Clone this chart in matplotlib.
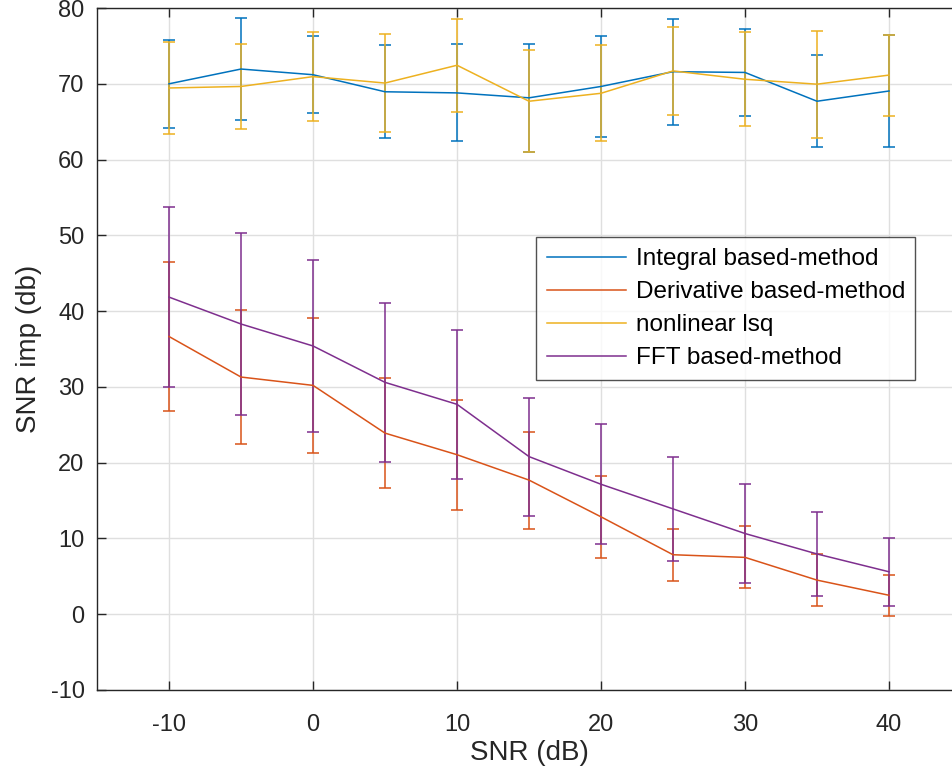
"""SNR improvement vs. input SNR for the four estimation methods."""

import matplotlib
matplotlib.use("Agg")
import matplotlib.pyplot as plt

plt.rcParams['font.family'] = ['Liberation Sans', 'DejaVu Sans']
plt.rcParams['axes.unicode_minus'] = False

snr = [-10, -5, 0, 5, 10, 15, 20, 25, 30, 35, 40]

integral_mean = [70.0, 71.95, 71.2, 68.95, 68.8, 68.15, 69.65, 71.6, 71.5, 67.7, 69.05]
integral_err = [5.8, 6.75, 5.05, 6.15, 6.4, 7.15, 6.65, 7.0, 5.7, 6.1, 7.35]

derivative_mean = [36.65, 31.3, 30.2, 23.9, 21.05, 17.7, 12.85, 7.85, 7.5, 4.5, 2.5]
derivative_err = [9.85, 8.8, 8.9, 7.3, 7.25, 6.4, 5.45, 3.45, 4.1, 3.45, 2.7]

lsq_mean = [69.45, 69.65, 70.95, 70.1, 72.45, 67.7, 68.75, 71.7, 70.6, 69.95, 71.15]
lsq_err = [6.1, 5.55, 5.85, 6.5, 6.15, 6.7, 6.35, 5.8, 6.2, 7.05, 5.35]

fft_mean = [41.85, 38.3, 35.4, 30.6, 27.7, 20.8, 17.15, 13.9, 10.65, 7.95, 5.6]
fft_err = [11.85, 12.0, 11.3, 10.5, 9.8, 7.8, 7.95, 6.85, 6.55, 5.6, 4.5]

labels = ['Integral based-method', 'Derivative based-method',
          'nonlinear lsq', 'FFT based-method']
colors = ['#0072BD', '#D95319', '#EDB120', '#7E2F8E']

fig = plt.figure(figsize=(9.53, 7.73), dpi=100)
# axes runs a little past the right edge of the figure
ax = fig.add_axes([0.1018, 0.1074, 0.9066, 0.8822])

series = [(integral_mean, integral_err), (derivative_mean, derivative_err),
          (lsq_mean, lsq_err), (fft_mean, fft_err)]
handles = []
for (mean, err), color, label in zip(series, colors, labels):
    cont = ax.errorbar(snr, mean, yerr=err, color=color, lw=1.1,
                       elinewidth=1.1, capsize=4.5, capthick=1.1, label=label)
    handles.append(cont.lines[0])

ax.set_xlim(-15, 45)
ax.set_ylim(-10, 80)
ax.set_xticks(range(-10, 41, 10))
ax.set_yticks(range(-10, 81, 10))
ax.grid(True, color='#dfdfdf', lw=1.0)
ax.set_axisbelow(True)

for spine in ax.spines.values():
    spine.set_color('#262626')
    spine.set_linewidth(1.0)
ax.tick_params(direction='in', length=6.5, width=1.0, colors='#262626',
               labelsize=17, top=True, right=True)
ax.tick_params(axis='x', pad=17)
ax.tick_params(axis='y', pad=9)

ax.set_xlabel('SNR (dB)', fontsize=20, color='#262626', labelpad=3)
ax.set_ylabel('SNR imp (db)', fontsize=20, color='#262626', labelpad=6)

leg = ax.legend(handles, labels, loc='lower left',
                bbox_to_anchor=(0.508, 0.4545, 0.439, 0.21), mode='expand',
                fontsize=17.5, frameon=True, fancybox=False, handlelength=3.25,
                handletextpad=0.4, borderaxespad=0, labelspacing=0.45,
                borderpad=0.45)
leg.get_frame().set_edgecolor('#262626')
leg.get_frame().set_linewidth(1.0)

fig.savefig('out.png', dpi=100)
